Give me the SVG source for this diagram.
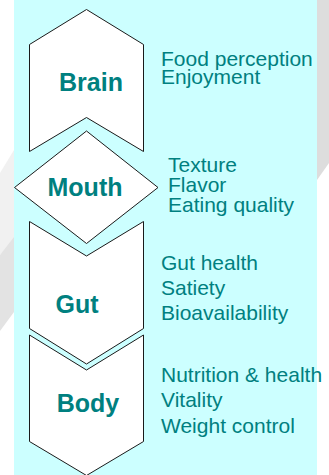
<svg xmlns="http://www.w3.org/2000/svg" width="329" height="475" viewBox="0 0 329 475">
<style>
.shape{fill:#ffffff;stroke:#1a1a1a;stroke-width:1;stroke-linejoin:miter}
.lbl{font-family:"Liberation Sans",Arial,Helvetica,sans-serif;font-weight:bold;font-size:25px;fill:#008080;text-anchor:middle}
.desc{font-family:"Liberation Sans",Arial,Helvetica,sans-serif;font-size:21px;fill:#008080}
</style>
<rect x="0" y="0" width="329" height="475" fill="#ffffff"/>
<polygon points="0,173 14,150 14,240 0,255" fill="#f1f1f1"/>
<polygon points="0,255 14,237 14,312 0,331" fill="#e3e3e3"/>
<polygon points="317,0 329,0 329,163 317,180" fill="#dddddd"/>
<rect x="14" y="0" width="303" height="475" fill="#ccffff"/>
<g id="connectors"/>
<g id="brain">
<polygon class="shape" points="29.5,44.5 86.5,9.5 143.5,44.5 143.5,151.5 86.5,117.5 29.5,151.5"/>
<text class="lbl" x="91" y="91">Brain</text>
<text class="desc" x="161" y="65.5">Food perception</text>
<text class="desc" x="161" y="84">Enjoyment</text>
</g>
<g id="mouth">
<polygon class="shape" points="86.5,131 158,187.5 86.5,243.5 14.5,187.5"/>
<text class="lbl" x="85" y="196">Mouth</text>
<text class="desc" x="168" y="171.5">Texture</text>
<text class="desc" x="168" y="191.5">Flavor</text>
<text class="desc" x="168" y="211.5">Eating quality</text>
</g>
<g id="gut">
<polygon class="shape" points="29.5,221.5 86.5,256 143.5,221.5 143.5,328.5 86.5,364 29.5,328.5"/>
<text class="lbl" x="77" y="312.5">Gut</text>
<text class="desc" x="161" y="270">Gut health</text>
<text class="desc" x="161" y="295">Satiety</text>
<text class="desc" x="161" y="320">Bioavailability</text>
</g>
<g id="body">
<polygon class="shape" points="29.5,335 86.5,370 143.5,335 143.5,441.5 86.5,475.5 29.5,441.5"/>
<text class="lbl" x="88" y="411.5">Body</text>
<text class="desc" x="161" y="381.5">Nutrition &amp; health</text>
<text class="desc" x="161" y="407">Vitality</text>
<text class="desc" x="161" y="432.5">Weight control</text>
</g>
</svg>
